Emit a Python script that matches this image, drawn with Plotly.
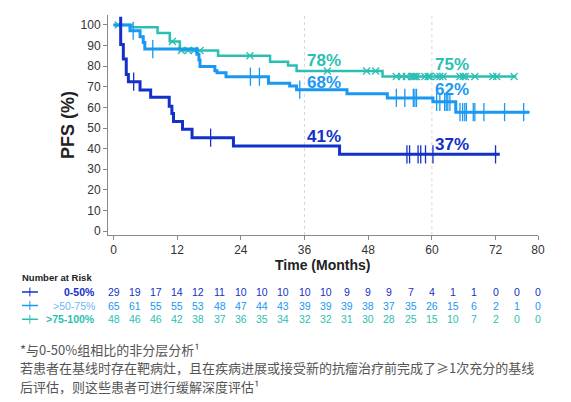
import numpy as np
import plotly.graph_objects as go

# KM step curves (months, PFS %)
t_low = [1.35, 1.35, 1.85, 2.4, 2.8, 5.0, 7.0, 10.5, 11.0, 11.3, 13.0, 14.8, 22.6, 42.6, 72.8]
s_low = [104, 90.5, 83.5, 76, 72.5, 68.4, 64.9, 60.5, 57, 53.1, 49.4, 45.3, 41.3, 37.2, 37.2]
c_low = [3.8, 18.3, 55.3, 55.8, 57.4, 57.9, 58.8, 60.2, 72.0]

t_mid = [0, 3.1, 5.0, 5.6, 5.9, 15.7, 16.1, 16.3, 19.1, 19.5, 21.2, 29.2, 33.2, 34.5, 44.0, 51.6, 60.2, 64.5, 78.4]
s_mid = [100, 97.2, 94.3, 91.5, 88.3, 85.8, 83.0, 79.8, 77.8, 76.8, 74.9, 71.7, 70.4, 68.6, 66.6, 64.6, 62.7, 57.7, 57.7]
c_mid = [3.7, 7.4, 25.8, 27.5, 35.1, 53.3, 54.9, 56.5, 56.8, 57.1, 60.9, 61.5, 62.4, 62.7, 63.0, 63.4,
         65.3, 65.8, 66.2, 66.5, 67.8, 68.1, 69.8, 73.7, 77.3]

t_high = [0, 3.4, 8.3, 10.6, 12.5, 19.7, 29.5, 32.9, 34.5, 50.7, 75.9]
s_high = [100, 98.9, 96.1, 92.0, 87.6, 85.1, 82.2, 80.3, 77.7, 75.0, 75.0]
c_high = [0.9, 11.1, 12.8, 14.1, 15.2, 16.3, 25.7, 40.3, 47.7, 49.4, 53.3, 54.3, 55.2, 56.2, 56.5, 56.8,
          57.1, 58.7, 59.3, 59.6, 60.9, 61.5, 62.1, 65.3, 65.9, 66.3, 68.1, 71.5, 72.2, 75.5]

# number at risk
risk_months = list(range(0, 81, 4))
risk_low = [29, 19, 17, 14, 12, 11, 10, 10, 10, 10, 10, 9, 9, 9, 7, 4, 1, 1, 0, 0, 0]
risk_mid = [65, 61, 55, 55, 53, 48, 47, 44, 43, 39, 39, 39, 38, 37, 35, 26, 15, 6, 2, 1, 0]
risk_high = [48, 46, 46, 42, 38, 37, 36, 35, 34, 32, 32, 31, 30, 28, 25, 15, 10, 7, 2, 0, 0]

group_names = ["0-50%", ">50-75%", ">75-100%"]
pct_labels = [("41%", 39.7, 46), ("37%", 63.8, 42),
              ("68%", 39.7, 72), ("62%", 63.7, 68.8),
              ("78%", 39.7, 83), ("75%", 63.7, 81)]

DARK = "#1330C8"
MID = "#1A98F2"
CYAN = "#2BBFB4"
LIGHT = "#6CB9F5"
FONT = "Liberation Sans"


def value_at(t, s, x):
    i = np.searchsorted(np.array(t), x, side="right") - 1
    return s[max(i, 0)]


fig = go.Figure()

for t, s, c, col, w, sym, msize in [
    (t_high, s_high, c_high, CYAN, 2.5, "x-thin", 7),
    (t_mid, s_mid, c_mid, MID, 3, "line-ns", 13),
    (t_low, s_low, c_low, DARK, 3, "line-ns", 13),
]:
    fig.add_trace(go.Scatter(x=t, y=s, mode="lines", line=dict(color=col, width=w, shape="hv"),
                             hoverinfo="skip"))
    fig.add_trace(go.Scatter(x=c, y=[value_at(t, s, v) for v in c], mode="markers",
                             marker=dict(symbol=sym, size=msize, line=dict(color=col, width=1.3)),
                             hoverinfo="skip"))

ann = []
for txt, x, y in pct_labels:
    col = DARK if txt in ("41%", "37%") else MID if txt in ("68%", "62%") else CYAN
    ann.append(dict(x=x, y=y, xref="x", yref="y", text="<b>%s</b>" % txt, showarrow=False,
                    font=dict(family=FONT, size=17, color=col)))

ann.append(dict(x=-0.093, y=0.5, xref="paper", yref="paper", text="<b>PFS (%)</b>", textangle=-90,
                xanchor="center", yanchor="middle", showarrow=False,
                font=dict(family=FONT, size=18, color="#222")))
ann.append(dict(x=39.3, y=-0.138, xref="x", yref="paper", text="<b>Time (Months)</b>", showarrow=False,
                yanchor="middle", font=dict(family=FONT, size=14, color="#222")))
ann.append(dict(x=-0.205, y=-0.194, xref="paper", yref="paper", text="<b>Number at Risk</b>",
                xanchor="left", yanchor="middle", showarrow=False,
                font=dict(family=FONT, size=9.5, color="#222")))

# at-risk table rows
label_style = [("<b>0-50%</b>", DARK), (">50-75%", LIGHT), ("<b>>75-100%</b>", CYAN)]
row_vals = [(risk_low, DARK), (risk_mid, MID), (risk_high, CYAN)]
row_y = [-0.259, -0.3205, -0.383]
shapes = []
for (lab, lcol), (vals, col), yy in zip(label_style, row_vals, row_y):
    ann.append(dict(x=-0.0256, y=yy, xref="paper", yref="paper", text=lab, xanchor="right",
                    yanchor="middle", showarrow=False, font=dict(family=FONT, size=10.5, color=lcol)))
    for m, v in zip(risk_months, vals):
        ann.append(dict(x=m, y=yy, xref="x", yref="paper", text=str(v), showarrow=False,
                        xanchor="center", yanchor="middle",
                        font=dict(family=FONT, size=10.5, color=col)))
    shapes.append(dict(type="line", xref="paper", yref="paper", x0=-0.2, x1=-0.163, y0=yy, y1=yy,
                       line=dict(color=col, width=1.5)))
    shapes.append(dict(type="line", xref="paper", yref="paper", x0=-0.1817, x1=-0.1817,
                       y0=yy - 0.02, y1=yy + 0.02, line=dict(color=col, width=1)))

# footnotes
foot = ["*与0-50%组相比的非分层分析¹",
        "若患者在基线时存在靶病灶，且在疾病进展或接受新的抗瘤治疗前完成了≥1次充分的基线",
        "后评估，则这些患者可进行缓解深度评估¹"]
for line, yy in zip(foot, [-0.521, -0.603, -0.69]):
    ann.append(dict(x=-0.209, y=yy, xref="paper", yref="paper", text=line, xanchor="left",
                    yanchor="middle", showarrow=False,
                    font=dict(family="Noto Sans CJK SC", size=13, color="#555")))

for gx in [36, 60]:
    shapes.append(dict(type="line", xref="x", yref="paper", x0=gx, x1=gx, y0=0, y1=1,
                       line=dict(color="#d8d8d8", width=1, dash="dot"), layer="below"))

# page body has an 8px default margin, so the plot box is shifted up-left by 8px
fig.update_layout(
    width=571, height=402,
    margin=dict(l=100, r=41, t=7, b=175),
    plot_bgcolor="white", paper_bgcolor="white",
    showlegend=False,
    annotations=ann, shapes=shapes,
    xaxis=dict(range=[-1.04, 80], tickvals=[0, 12, 24, 36, 48, 60, 72, 80], showgrid=False,
               zeroline=False, showline=True, linecolor="#888", ticks="outside", ticklen=4,
               tickcolor="#888", tickfont=dict(family=FONT, size=12, color="#333")),
    yaxis=dict(range=[-1.94, 104.85], tickvals=list(range(0, 101, 10)), showgrid=False,
               zeroline=False, showline=True, linecolor="#888", ticks="outside", ticklen=4,
               tickcolor="#888", tickfont=dict(family=FONT, size=12, color="#333")),
)

fig.write_html("out.html")
